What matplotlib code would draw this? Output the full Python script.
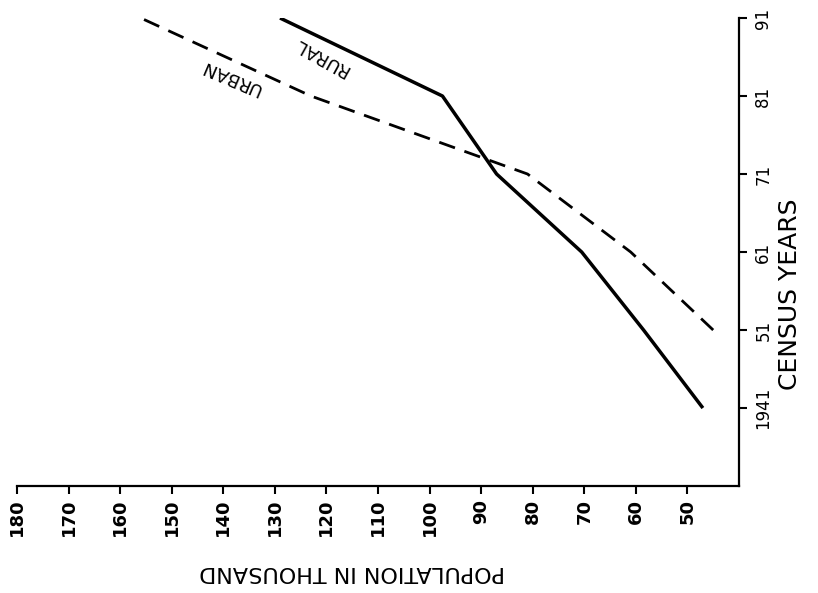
import numpy as np
import matplotlib
matplotlib.use("Agg")
import matplotlib.pyplot as plt

# census years and population (thousand)
years = [1941, 1951, 1961, 1971, 1981, 1991]
year_labels = ["1941", "51", "61", "71", "81", "91"]
rural = [47, 58.5, 70.5, 87, 97.5, 129]
urban_years = [1951, 1961, 1971, 1981, 1991]
urban = [45, 61, 81, 123, 156]
pop_ticks = list(range(180, 40, -10))

fig = plt.figure(figsize=(8.18, 5.93), dpi=100)
ax = fig.add_axes([0.0208, 0.1804, 0.8826, 0.7892])

ax.plot(rural, years, color="black", lw=2.5, solid_capstyle="butt")
ax.plot(urban, urban_years, color="black", lw=2.0, dashes=(6, 3.6))

ax.set_xlim(180, 40)
ax.set_ylim(1931, 1991)

for s in ["top", "left"]:
    ax.spines[s].set_visible(False)
for s in ["bottom", "right"]:
    ax.spines[s].set_linewidth(1.6)

ax.yaxis.tick_right()
ax.set_xticks(pop_ticks)
ax.set_xticklabels([str(p) for p in pop_ticks], rotation=90, fontsize=13,
                   fontweight="bold")
ax.set_yticks(years)
ax.set_yticklabels(year_labels, rotation=90, fontsize=12, va="center")
ax.tick_params(axis="x", direction="out", length=6, width=1.5, pad=3)
ax.tick_params(axis="y", direction="out", length=6, width=1.5, pad=5)

ax.text(121, 1986, "RURAL", rotation=151, fontsize=13, ha="center", va="center")
ax.text(138.5, 1983.4, "URBAN", rotation=157, fontsize=13, ha="center", va="center")

fig.text(0.430, 0.035, "POPULATION IN THOUSAND", rotation=180, fontsize=16,
         ha="center", va="center")
fig.text(0.966, 0.503, "CENSUS YEARS", rotation=90, fontsize=18,
         ha="center", va="center")

fig.savefig("out.png", dpi=100)
